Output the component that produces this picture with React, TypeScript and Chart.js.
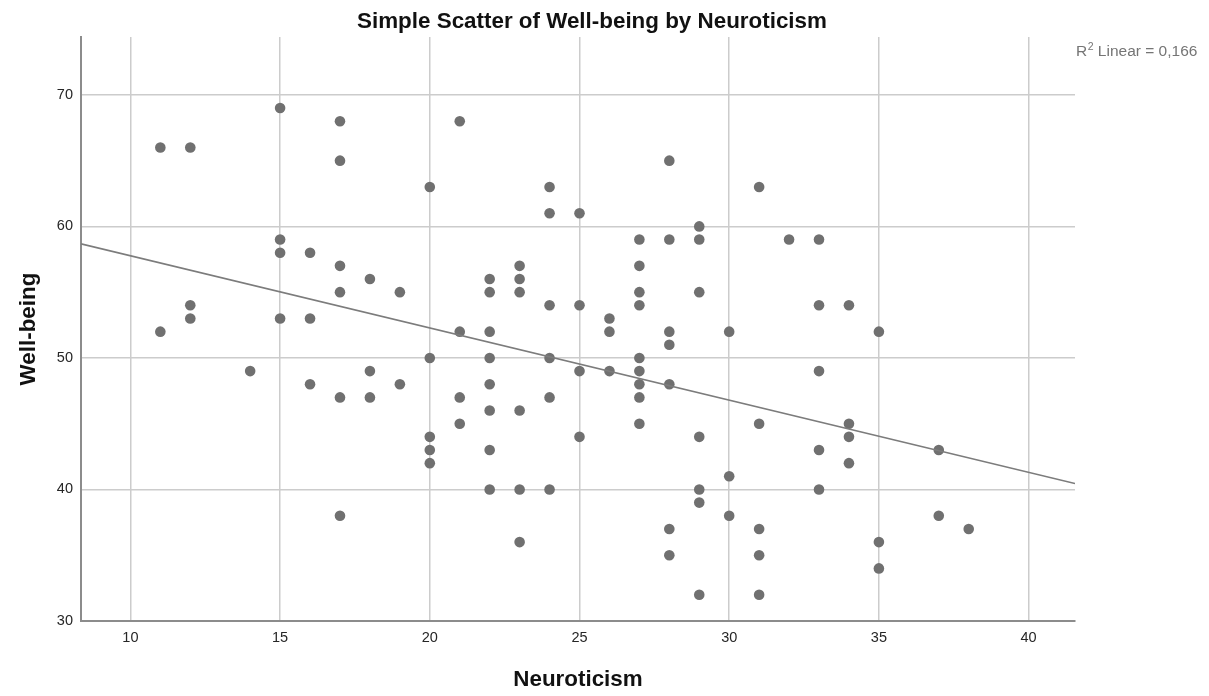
import React, { useEffect, useRef } from "react";
import { Chart, registerables } from "chart.js";

Chart.register(...registerables);

// Neuroticism (x) and Well-being (y) for each respondent
const neuroticism = [
  11, 11,
  12, 12, 12,
  14,
  15, 15, 15, 15,
  16, 16, 16,
  17, 17, 17, 17, 17, 17,
  18, 18, 18,
  19, 19,
  20, 20, 20, 20, 20,
  21, 21, 21, 21,
  22, 22, 22, 22, 22, 22, 22, 22,
  23, 23, 23, 23, 23, 23,
  24, 24, 24, 24, 24, 24,
  25, 25, 25, 25,
  26, 26, 26,
  27, 27, 27, 27, 27, 27, 27, 27, 27,
  28, 28, 28, 28, 28, 28, 28,
  29, 29, 29, 29, 29, 29, 29,
  30, 30, 30,
  31, 31, 31, 31, 31,
  32,
  33, 33, 33, 33, 33,
  34, 34, 34, 34,
  35, 35, 35,
  37, 37,
  38,
];

const wellBeing = [
  66, 52,
  66, 54, 53,
  49,
  69, 59, 58, 53,
  58, 53, 48,
  68, 65, 57, 55, 47, 38,
  56, 49, 47,
  55, 48,
  63, 50, 44, 43, 42,
  68, 52, 47, 45,
  56, 55, 52, 50, 48, 46, 43, 40,
  57, 56, 55, 46, 40, 36,
  63, 61, 54, 50, 47, 40,
  61, 54, 49, 44,
  53, 52, 49,
  59, 57, 55, 54, 50, 49, 48, 47, 45,
  65, 59, 52, 51, 48, 37, 35,
  60, 59, 55, 44, 40, 39, 32,
  52, 41, 38,
  63, 45, 37, 35, 32,
  59,
  59, 54, 49, 43, 40,
  54, 45, 44, 42,
  52, 36, 34,
  43, 38,
  37,
];

// Linear fit line endpoints (at the axis limits)
const fitX = [8.35, 41.55];
const fitY = [58.67, 40.45];

const xTickValues = [10, 15, 20, 25, 30, 35, 40];
const yTickValues = [30, 40, 50, 60, 70];

const xRange = [8.35, 41.55];
const yRange = [30, 74.4];

const chartTitle = "Simple Scatter of Well-being by Neuroticism";
const xAxisTitle = "Neuroticism";
const yAxisTitle = "Well-being";
const r2Value = "0,166";

const FONT = "'Liberation Sans', Arial, Helvetica, sans-serif";

const annotationPlugin = {
  id: "spssText",
  afterDraw(chart: any) {
    const ctx = chart.ctx;
    ctx.save();
    // Title
    ctx.fillStyle = "#111111";
    ctx.font = `bold 22.4px ${FONT}`;
    ctx.textAlign = "center";
    ctx.textBaseline = "alphabetic";
    ctx.fillText(chartTitle, 592, 28);
    // R² label
    ctx.fillStyle = "#757575";
    ctx.textAlign = "left";
    let x = 1076;
    const base = 56;
    ctx.font = `15.5px ${FONT}`;
    ctx.fillText("R", x, base);
    x += ctx.measureText("R").width;
    ctx.font = `10.5px ${FONT}`;
    ctx.fillText("2", x + 0.5, base - 6);
    x += ctx.measureText("2").width + 0.5;
    ctx.font = `15.5px ${FONT}`;
    ctx.fillText(" Linear = " + r2Value, x, base);
    ctx.restore();
  },
};

export default function App() {
  const canvasRef = useRef<HTMLCanvasElement | null>(null);

  useEffect(() => {
    if (!canvasRef.current) return;
    Chart.defaults.font.family = FONT;
    const points = neuroticism.map((n, i) => ({ x: n, y: wellBeing[i] }));
    const fit = fitX.map((v, i) => ({ x: v, y: fitY[i] }));

    const chart = new Chart(canvasRef.current, {
      type: "scatter",
      data: {
        datasets: [
          {
            label: "Linear fit",
            data: fit,
            showLine: true,
            borderColor: "#7c7c7c",
            borderWidth: 1.6,
            pointRadius: 0,
            pointHoverRadius: 0,
            fill: false,
            order: 0,
          } as any,
          {
            label: "Well-being",
            data: points,
            backgroundColor: "#707070",
            borderWidth: 0,
            pointRadius: 5.3,
            pointHoverRadius: 5.3,
            order: 1,
          },
        ],
      },
      options: {
        responsive: false,
        animation: false,
        layout: { padding: { left: 0, top: 37, right: 134, bottom: 0 } },
        plugins: {
          legend: { display: false },
          title: { display: false },
          tooltip: { enabled: false },
        },
        scales: {
          x: {
            type: "linear",
            min: xRange[0],
            max: xRange[1],
            afterBuildTicks: (scale: any) => {
              scale.ticks = xTickValues.map((v) => ({ value: v }));
            },
            afterFit: (scale: any) => {
              scale.height = 75;
            },
            ticks: {
              padding: 8,
              color: "#262626",
              font: { size: 14.5 },
              maxRotation: 0,
              autoSkip: false,
            },
            grid: {
              color: "#cccccc",
              lineWidth: 1.5,
              drawTicks: false,
            },
            border: { color: "#8c8c8c", width: 2 },
            title: {
              display: true,
              text: xAxisTitle,
              color: "#111111",
              font: { size: 22.4, weight: "bold" },
              padding: { top: 0, bottom: 3 },
            },
          },
          y: {
            type: "linear",
            min: yRange[0],
            max: yRange[1],
            afterBuildTicks: (scale: any) => {
              scale.ticks = yTickValues.map((v) => ({ value: v }));
            },
            afterFit: (scale: any) => {
              scale.width = 81;
            },
            ticks: {
              padding: 8,
              color: "#262626",
              font: { size: 14.5 },
              autoSkip: false,
            },
            grid: {
              color: "#cccccc",
              lineWidth: 1.5,
              drawTicks: false,
            },
            border: { color: "#8c8c8c", width: 2 },
            title: {
              display: true,
              text: yAxisTitle,
              color: "#111111",
              font: { size: 22.4, weight: "bold" },
              padding: { top: 15, bottom: 0 },
            },
          },
        },
      },
      plugins: [annotationPlugin],
    });

    return () => chart.destroy();
  }, []);

  return (
    <div style={{ position: "fixed", left: 0, top: 0, width: 1209, height: 696, background: "#ffffff" }}>
      <canvas ref={canvasRef} width={1209} height={696} style={{ display: "block" }} />
    </div>
  );
}
